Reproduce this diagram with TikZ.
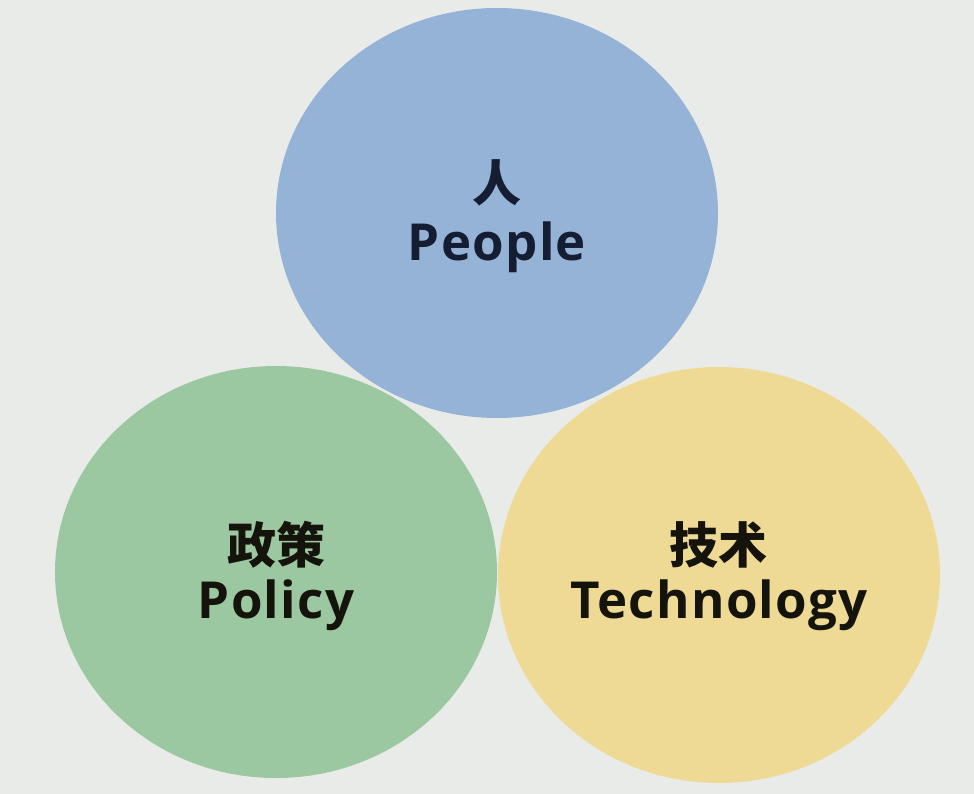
\documentclass[tikz,border=0pt]{standalone}
\usepackage{fontspec}
\setmainfont{Open Sans}[LetterSpace=2.5]
\newfontfamily\cjk{Noto Sans CJK SC}
\usetikzlibrary{shapes.geometric}
\definecolor{bg}{HTML}{E9EBE8}
\definecolor{cblue}{HTML}{95B3D7}
\definecolor{cgreen}{HTML}{9BC8A0}
\definecolor{cyellow}{HTML}{EEDA94}
\definecolor{tnavy}{HTML}{151D33}
\definecolor{tdark}{HTML}{15140C}
\tikzset{
  blob/.style={ellipse, draw=none, inner sep=0pt, minimum width=442pt},
  zh/.style={font=\cjk\bfseries\fontsize{49}{51}\selectfont, inner sep=0pt, anchor=base},
  en/.style={font=\bfseries\fontsize{51}{53}\selectfont, inner sep=0pt, anchor=base},
}
\begin{document}
\begin{tikzpicture}[x=1pt,y=-1pt]
\fill[bg] (0,0) rectangle (974,794);
\useasboundingbox (0,0) rectangle (974,794);
\node[blob, fill=cblue, minimum height=410pt] (people) at (497,213) {};
\node[blob, fill=cgreen, minimum height=412pt] (policy) at (276,572) {};
\node[blob, fill=cyellow, minimum height=416pt] (tech) at (719,575) {};
\node[zh, text=tnavy] (peoplezh) at (497,202) {人};
\node[en, text=tnavy] (peopleen) at (497,261) {People};
\node[zh, text=tdark] (policyzh) at (276,563) {政策};
\node[en, text=tdark] (policyen) at (276,618) {Policy};
\node[zh, text=tdark] (techzh) at (718,563) {技术};
\node[en, text=tdark] (techen) at (719,618) {Technology};
\end{tikzpicture}
\end{document}
